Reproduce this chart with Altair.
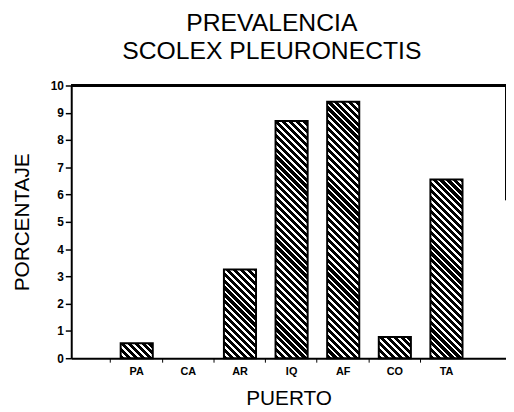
import altair as alt
import pandas as pd

puertos = ["PA", "CA", "AR", "IQ", "AF", "CO", "TA"]
prevalencia = [0.55, 0.0, 3.25, 8.7, 9.4, 0.78, 6.55]
y_ticks = list(range(0, 11))

W, H = 440, 276
FONT = "Liberation Sans"

df = pd.DataFrame({"puerto": puertos, "valor": prevalencia})

x_scale = alt.Scale(domain=puertos, paddingInner=0.378, paddingOuter=0.9, align=0.532)
y_scale = alt.Scale(domain=[0, 10], nice=False)

bar_w = W / (len(puertos) - 0.378 + 2 * 0.9) * (1 - 0.378)
px_per_unit = H / 10.0
period = 7.0


def hatch(value):
    h = max(value * px_per_unit, 1.0)
    w = bar_w
    k = (w + h) / (w * w + h * h)
    span = w + h
    stops = []
    n = int(span / period) + 1
    for i in range(n):
        a = i * period / span
        b = (i + 0.6) * period / span
        c = (i + 1) * period / span
        stops += [
            {"offset": min(a, 1), "color": "black"},
            {"offset": min(b, 1), "color": "black"},
            {"offset": min(b, 1), "color": "white"},
            {"offset": min(c, 1), "color": "white"},
        ]
    return {"gradient": "linear", "x1": 0, "y1": 1, "x2": k * w, "y2": 1 - k * h, "stops": stops}


base = alt.Chart(df)
x_enc = alt.X(
    "puerto:N",
    scale=x_scale,
    sort=puertos,
    title="PUERTO",
    axis=alt.Axis(
        labelAngle=0,
        labelFont=FONT,
        labelFontSize=11,
        labelFontWeight="bold",
        labelColor="black",
        labelPadding=3,
        tickSize=4,
        tickColor="black",
        tickWidth=1,
        bandPosition=-0.31,
        domainColor="black",
        domainWidth=2,
        titleFont=FONT,
        titleFontSize=21,
        titleFontWeight="normal",
        titleColor="black",
        titlePadding=12,
    ),
)
y_enc = alt.Y(
    "valor:Q",
    scale=y_scale,
    title="PORCENTAJE",
    axis=alt.Axis(
        values=y_ticks,
        grid=False,
        labelFont=FONT,
        labelFontSize=12,
        labelFontWeight="bold",
        labelColor="black",
        labelPadding=2,
        tickSize=6,
        tickColor="black",
        tickWidth=1.5,
        domainColor="black",
        domainWidth=2,
        titleFont=FONT,
        titleFontSize=21,
        titleFontWeight="normal",
        titleColor="black",
        titlePadding=18,
    ),
)

layers = []
for p, v in zip(puertos, prevalencia):
    if v <= 0:
        continue
    layers.append(
        base.transform_filter(alt.datum.puerto == p)
        .mark_bar(fill=hatch(v), stroke="black", strokeWidth=2)
        .encode(x=x_enc, y=y_enc)
    )

top_line = base.mark_rule(color="black", strokeWidth=2).encode(
    x=alt.value(0), x2=alt.value(W), y=alt.value(0)
)
right_line = base.mark_rule(color="black", strokeWidth=1).encode(
    x=alt.value(W), y=alt.value(0), y2=alt.value(116)
)

chart = (
    alt.layer(*layers, top_line, right_line)
    .properties(
        width=W,
        height=H,
        title=alt.TitleParams(
            ["PREVALENCIA", "SCOLEX PLEURONECTIS"],
            font=FONT,
            fontSize=25,
            fontWeight="normal",
            color="black",
            anchor="middle",
            dx=-17,
            lineHeight=28,
            offset=16,
        ),
        autosize=alt.AutoSizeParams(type="none"),
        padding={"left": 64, "top": 76, "right": 0, "bottom": 52},
    )
    .configure_view(stroke=None)
    .configure(background="white")
)

chart.save("out.html", embed_options={"renderer": "svg", "actions": False})
